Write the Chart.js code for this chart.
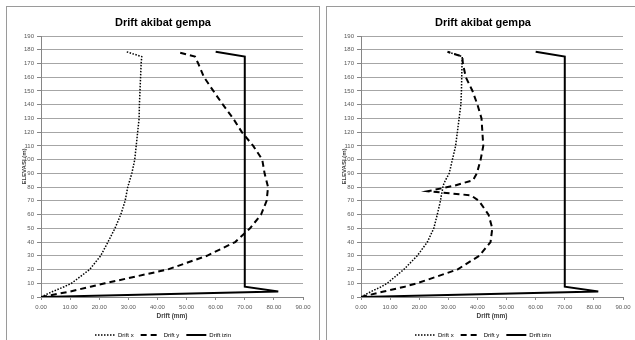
<!DOCTYPE html>
<html>
<head>
<meta charset="utf-8">
<script src="https://cdn.jsdelivr.net/npm/chart.js@4/dist/chart.umd.min.js"></script>
<style>
  body { margin: 0; background: #fff; width: 635px; height: 340px; overflow: hidden; position: relative; }
  .box { position: absolute; top: 6px; width: 314px; height: 350px; border: 1px solid #9a9a9a; box-sizing: border-box; background: #fff; overflow: hidden; }
  .box canvas { position: absolute; left: 0; top: 0; }
</style>
</head>
<body>
<div class="box" style="left:6px"><canvas id="chartLeft" width="312" height="341"></canvas></div>
<div class="box" style="left:326px"><canvas id="chartRight" width="312" height="341"></canvas></div>
<script>
'use strict'

// left chart: elevation (m) and drift (mm)
const elevLeft = [0, 4, 7.5, 10, 20, 30, 40, 50, 60, 70, 80, 90, 100, 110, 120, 130, 140, 150, 160, 170, 175, 178.5]
const driftXLeft = [0, 4, 8, 10.5, 16.7, 20.5, 23, 25.4, 27.4, 28.9, 29.8, 31.2, 32.2, 32.7, 33.2, 33.7, 33.8, 34, 34.2, 34.4, 34.6, 29.4]
const driftYLeft = [0, 10, 17, 22, 43.5, 57, 66.7, 71.8, 75.6, 77.5, 78, 76.8, 76, 72.9, 69, 66, 62.5, 59.2, 56, 54, 52.9, 46.6]
const driftIzinLeft = [0, 81.5, 70, 70, 70, 70, 70, 70, 70, 70, 70, 70, 70, 70, 70, 70, 70, 70, 70, 70, 70, 60]

// right chart
const elevRight = [0, 4, 7.5, 10, 20, 30, 40, 50, 60, 70, 74, 77, 81, 85, 90, 100, 110, 120, 130, 140, 150, 160, 170, 175, 178.5]
const driftXRight = [0, 3.5, 7, 9, 14.7, 19.3, 22.8, 25, 26.2, 27.3, 27.6, 27.9, 28.2, 29, 30.3, 31.4, 32.5, 33.1, 33.7, 34.3, 34.5, 34.6, 34.7, 34.8, 29.7]
const driftYRight = [0, 7.8, 15, 19.3, 33.1, 40.6, 44.5, 45.1, 43.8, 40.5, 37.8, 22.9, 32, 38.5, 39.8, 41.1, 42, 41.7, 41.4, 40, 38.3, 36, 35, 34.8, 29.7]
const driftIzinRight = [0, 81.5, 70, 70, 70, 70, 70, 70, 70, 70, 70, 70, 70, 70, 70, 70, 70, 70, 70, 70, 70, 70, 70, 70, 60]

const seriesNames = ['Drift x', 'Drift y', 'Drift izin']
const chartTitle = 'Drift akibat gempa'
const xTitle = 'Drift (mm)'
const yTitle = 'ELEVASI (m)'

const fontFamily = "'Liberation Sans', Arial, sans-serif"
const tickColor = '#595959'

function points(elev, drift) {
  return elev.map((e, i) => ({ x: drift[i], y: e }))
}

function makeChart(id, elev, dx, dy, dizin) {
  return new Chart(document.getElementById(id), {
    type: 'scatter',
    data: {
      datasets: [
        { label: seriesNames[0], data: points(elev, dx), borderColor: '#000', borderWidth: 1.5, borderDash: [1.5, 1.5] },
        { label: seriesNames[1], data: points(elev, dy), borderColor: '#000', borderWidth: 2, borderDash: [6, 4] },
        { label: seriesNames[2], data: points(elev, dizin), borderColor: '#000', borderWidth: 2 }
      ]
    },
    options: {
      responsive: false,
      animation: false,
      showLine: true,
      elements: { point: { radius: 0 }, line: { tension: 0, fill: false } },
      layout: { padding: 0 },
      plugins: {
        title: {
          display: true,
          text: chartTitle,
          color: '#000',
          font: { family: fontFamily, size: 11, weight: 'bold' },
          padding: { top: 9, bottom: 6.8 }
        },
        legend: {
          position: 'bottom',
          labels: {
            usePointStyle: true,
            pointStyle: 'line',
            pointStyleWidth: 20,
            boxHeight: 6,
            padding: 7,
            color: tickColor,
            font: { family: fontFamily, size: 6 },
            generateLabels: (chart) => chart.data.datasets.map((ds, i) => ({
              text: ds.label,
              strokeStyle: ds.borderColor,
              fillStyle: ds.borderColor,
              lineWidth: ds.borderWidth,
              lineDash: ds.borderDash || [],
              pointStyle: 'line',
              datasetIndex: i,
              hidden: false
            }))
          }
        },
        tooltip: { enabled: false }
      },
      scales: {
        x: {
          type: 'linear',
          min: 0,
          max: 90,
          afterFit: (s) => { s.height = 28 },
          ticks: { stepSize: 10, color: tickColor, font: { family: fontFamily, size: 6 }, padding: 4, callback: (v) => v.toFixed(2) },
          grid: { drawOnChartArea: false, color: '#868686', tickLength: 3 },
          border: { color: '#868686' },
          title: { display: true, text: xTitle, color: '#404040', font: { family: fontFamily, size: 6.5, weight: 'bold' }, padding: { top: 2, bottom: 5 } }
        },
        y: {
          type: 'linear',
          min: 0,
          max: 190,
          afterFit: (s) => { s.width = 34 },
          ticks: { stepSize: 10, color: tickColor, font: { family: fontFamily, size: 6 }, padding: 3 },
          grid: { color: '#a6a6a6', tickColor: '#868686', tickLength: 4 },
          border: { color: '#868686' },
          title: { display: true, text: yTitle, color: '#404040', font: { family: fontFamily, size: 6, weight: 'bold' }, padding: { top: 14, bottom: 0 } }
        },
        // empty right-hand space so the title and legend stay centred on the whole box
        spacer: {
          type: 'linear',
          position: 'right',
          afterFit: (s) => { s.width = 16 },
          ticks: { display: false },
          grid: { display: false },
          border: { display: false }
        }
      }
    }
  })
}

makeChart('chartLeft', elevLeft, driftXLeft, driftYLeft, driftIzinLeft)
makeChart('chartRight', elevRight, driftXRight, driftYRight, driftIzinRight)
</script>
</body>
</html>
